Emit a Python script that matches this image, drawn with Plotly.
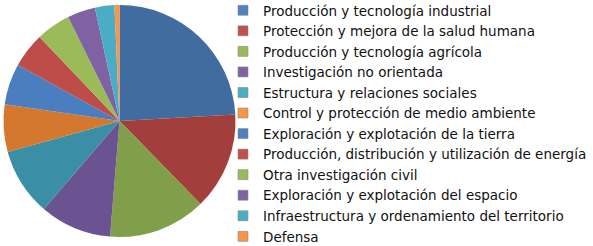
import plotly.graph_objects as go

categories = [
    "Producción y tecnología industrial",
    "Protección y mejora de la salud humana",
    "Producción y tecnología agrícola",
    "Investigación no orientada",
    "Estructura y relaciones sociales",
    "Control y protección de medio ambiente",
    "Exploración y explotación de la tierra",
    "Producción, distribución y utilización de energía",
    "Otra investigación civil",
    "Exploración y explotación del espacio",
    "Infraestructura y ordenamiento del territorio",
    "Defensa",
]
values = [24.1, 13.6, 13.6, 10.0, 9.4, 6.6, 5.7, 4.9, 4.8, 3.9, 2.7, 0.7]

slice_colors = ["#416C9F", "#A23F3C", "#819F4A", "#6B5290", "#3A8FA6", "#D4782F",
                "#4A7EBE", "#BE4C49", "#9BBB59", "#7F62A1", "#4BACC6", "#F79646"]
legend_colors = ["#4F81BD", "#C0504D", "#9BBB59", "#8064A2", "#4BACC6", "#F79646",
                 "#4F81BD", "#C0504D", "#9BBB59", "#8064A2", "#4BACC6", "#F79646"]

W, H = 593, 246


def px_x(x):
    return x / W


def px_y(y):
    return 1 - y / H


fig = go.Figure()
fig.add_trace(go.Pie(
    labels=categories, values=values, sort=False, direction="clockwise",
    rotation=0, textinfo="none", hoverinfo="label+percent",
    marker=dict(colors=slice_colors, line=dict(width=0)),
    domain=dict(x=[px_x(3.5), px_x(235.5)], y=[px_y(237), px_y(5)]),
    showlegend=False,
))
for name, c in zip(categories, legend_colors):
    fig.add_trace(go.Scatter(
        x=[None], y=[None], mode="markers", name=name,
        marker=dict(symbol="square", size=10, color=c, line=dict(width=0.6, color="#8a8a8a")),
    ))

fig.update_layout(
    width=W, height=H, margin=dict(l=0, r=0, t=0, b=0, autoexpand=False),
    paper_bgcolor="white", plot_bgcolor="white",
    xaxis=dict(visible=False), yaxis=dict(visible=False),
    font=dict(family="DejaVu Sans", size=13.5, color="#111111"),
    legend=dict(x=px_x(223), y=px_y(-5), xanchor="left", yanchor="top",
                bgcolor="rgba(0,0,0,0)", tracegroupgap=0, itemwidth=30,
                maxheight=400),
)
fig.write_html("out.html", config={"displayModeBar": False},
               post_script="document.body.style.margin='0';document.body.style.overflow='hidden';")
